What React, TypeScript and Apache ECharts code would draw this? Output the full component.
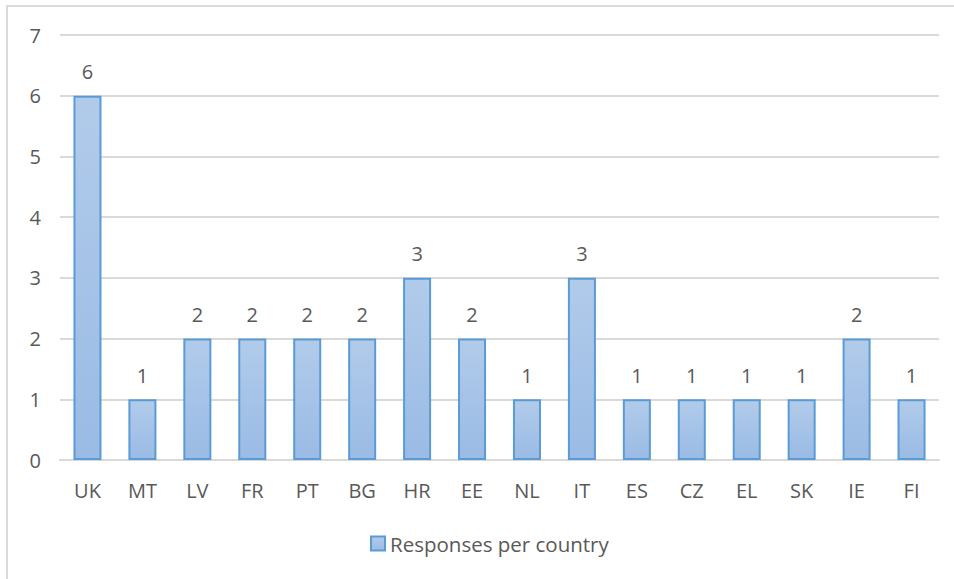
import React, { useEffect, useRef } from "react";
import * as echarts from "echarts";

const categories = ["UK", "MT", "LV", "FR", "PT", "BG", "HR", "EE", "NL", "IT", "ES", "CZ", "EL", "SK", "IE", "FI"];
const responses = [6, 1, 2, 2, 2, 2, 3, 2, 1, 3, 1, 1, 1, 1, 2, 1];
const seriesName = "Responses per country";

export default function App() {
  const ref = useRef<HTMLDivElement>(null);
  useEffect(() => {
    document.body.style.margin = "0";
    const chart = echarts.init(ref.current!, undefined, { renderer: "svg" });
    const font = "'Open Sans', sans-serif";
    chart.setOption({
      animation: false,
      backgroundColor: "#ffffff",
      textStyle: { fontFamily: font },
      graphic: [
        {
          type: "rect",
          shape: { x: 7, y: 6, width: 1000, height: 1000 },
          style: { fill: "none", stroke: "#d9d9d9", lineWidth: 2 },
          silent: true,
        },
      ],
      grid: { left: 60, right: 15, top: 35, bottom: 119, containLabel: false },
      legend: {
        left: 365,
        top: 528,
        itemWidth: 14,
        itemHeight: 14,
        itemGap: 10,
        icon: "rect",
        textStyle: { color: "#595959", fontSize: 20.5, fontFamily: font, padding: [0, 0, 0, 0] },
        data: [seriesName],
      },
      xAxis: {
        type: "category",
        data: categories,
        axisLine: { show: true, lineStyle: { color: "#d9d9d9", width: 2 } },
        axisTick: { show: false },
        axisLabel: { color: "#595959", fontSize: 20, margin: 20, fontFamily: font },
      },
      yAxis: {
        type: "value",
        min: 0,
        max: 7,
        interval: 1,
        axisLine: { show: false },
        axisTick: { show: false },
        splitLine: { lineStyle: { color: "#d9d9d9", width: 2 } },
        axisLabel: { color: "#595959", fontSize: 20, margin: 19, fontFamily: font },
      },
      series: [
        {
          name: seriesName,
          type: "bar",
          data: responses,
          barWidth: "51%",
          itemStyle: {
            color: new echarts.graphic.LinearGradient(0, 0, 0, 1, [
              { offset: 0, color: "#b1cbea" },
              { offset: 1, color: "#9abbe5" },
            ]),
            borderColor: "#5b9bd5",
            borderWidth: 2,
          },
          label: {
            show: true,
            position: "top",
            distance: 14,
            color: "#595959",
            fontSize: 20,
            fontFamily: font,
          },
        },
      ],
    });
    return () => chart.dispose();
  }, []);
  return <div ref={ref} style={{ position: "absolute", left: 0, top: 0, width: 954, height: 579 }} />;
}
